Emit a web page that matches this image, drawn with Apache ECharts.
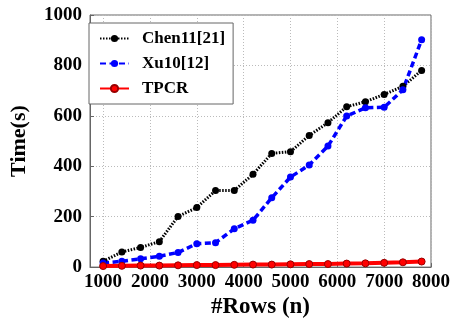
<!DOCTYPE html>
<html>
<head>
<meta charset="utf-8">
<script src="https://cdn.jsdelivr.net/npm/echarts@6/dist/echarts.min.js"></script>
<style>html,body{margin:0;padding:0;background:#fff;}#c{width:453px;height:324px;}</style>
</head>
<body>
<div id="c"></div>
<script>
const rows = [1000,1400,1800,2200,2600,3000,3400,3800,4200,4600,5000,5400,5800,6200,6600,7000,7400,7800];
const chen = [23,60,78,101,201,236,304,304,368,451,458,522,573,636,656,685,717,780];
const xu = [16,23,33,43,58,93,97,152,186,275,357,405,480,599,632,634,703,902];
const tpcr = [4,5,6,6,7,8,8,9,10,10,11,12,12,14,15,17,19,22];
const xTicks = [1000,2000,3000,4000,5000,6000,7000,8000];
const seriesNames = ['Chen11[21]','Xu10[12]','TPCR'];

const FONT = 'Liberation Serif';
const pair = (xs, ys) => xs.map((x,i)=>[x, ys[i]]);
const plain = v => String(v);

const chart = echarts.init(document.getElementById('c'), null, {renderer:'canvas'});
chart.setOption({
  animation:false,
  backgroundColor:'#fff',
  grid:{left:81,right:20,top:15,bottom:52,show:true,borderColor:'#666',borderWidth:1,backgroundColor:'transparent'},
  legend:{
    orient:'vertical', left:89, top:23,
    padding:[7,8,7,10], itemGap:8, itemWidth:29, itemHeight:9,
    borderColor:'#666', borderWidth:1, backgroundColor:'#fff',
    textStyle:{fontFamily:FONT,fontWeight:'bold',fontSize:17,color:'#000',padding:[0,0,0,8]},
    data:seriesNames
  },
  xAxis:{
    type:'value', min:720, max:8000,
    name:'#Rows (n)', nameLocation:'middle', nameGap:27,
    nameTextStyle:{fontFamily:FONT,fontWeight:'bold',fontSize:23,color:'#000'},
    axisLine:{show:true,lineStyle:{color:'#666'}},
    axisTick:{show:true,inside:true,length:4,customValues:xTicks,lineStyle:{color:'#666'}},
    axisLabel:{customValues:xTicks,formatter:plain,fontFamily:FONT,fontWeight:'bold',fontSize:19,color:'#000',margin:5},
    splitLine:{show:true,lineStyle:{color:'#bbb',type:[1,2],width:1}}
  },
  yAxis:{
    type:'value', min:0, max:1000, interval:200,
    name:'Time(s)', nameLocation:'middle', nameGap:60,
    nameTextStyle:{fontFamily:FONT,fontWeight:'bold',fontSize:22,color:'#000'},
    axisLine:{show:true,lineStyle:{color:'#666'}},
    axisTick:{show:true,inside:true,length:4,lineStyle:{color:'#666'}},
    axisLabel:{formatter:plain,fontFamily:FONT,fontWeight:'bold',fontSize:19,color:'#000',margin:8},
    splitLine:{show:true,lineStyle:{color:'#bbb',type:[1,2],width:1}}
  },
  series:[
    {name:seriesNames[0],type:'line',data:pair(rows,chen),symbol:'circle',symbolSize:7,
     itemStyle:{color:'#000'},lineStyle:{color:'#000',width:3,type:[1.5,1.5]}},
    {name:seriesNames[1],type:'line',data:pair(rows,xu),symbol:'circle',symbolSize:7,
     itemStyle:{color:'#0000ff'},lineStyle:{color:'#0000ff',width:3.5,type:[6,3.5]}},
    {name:seriesNames[2],type:'line',data:pair(rows,tpcr),symbol:'circle',symbolSize:7,
     itemStyle:{color:'#ff0000',borderColor:'#990000',borderWidth:1},lineStyle:{color:'#ff0000',width:4}}
  ]
});
</script>
</body>
</html>
